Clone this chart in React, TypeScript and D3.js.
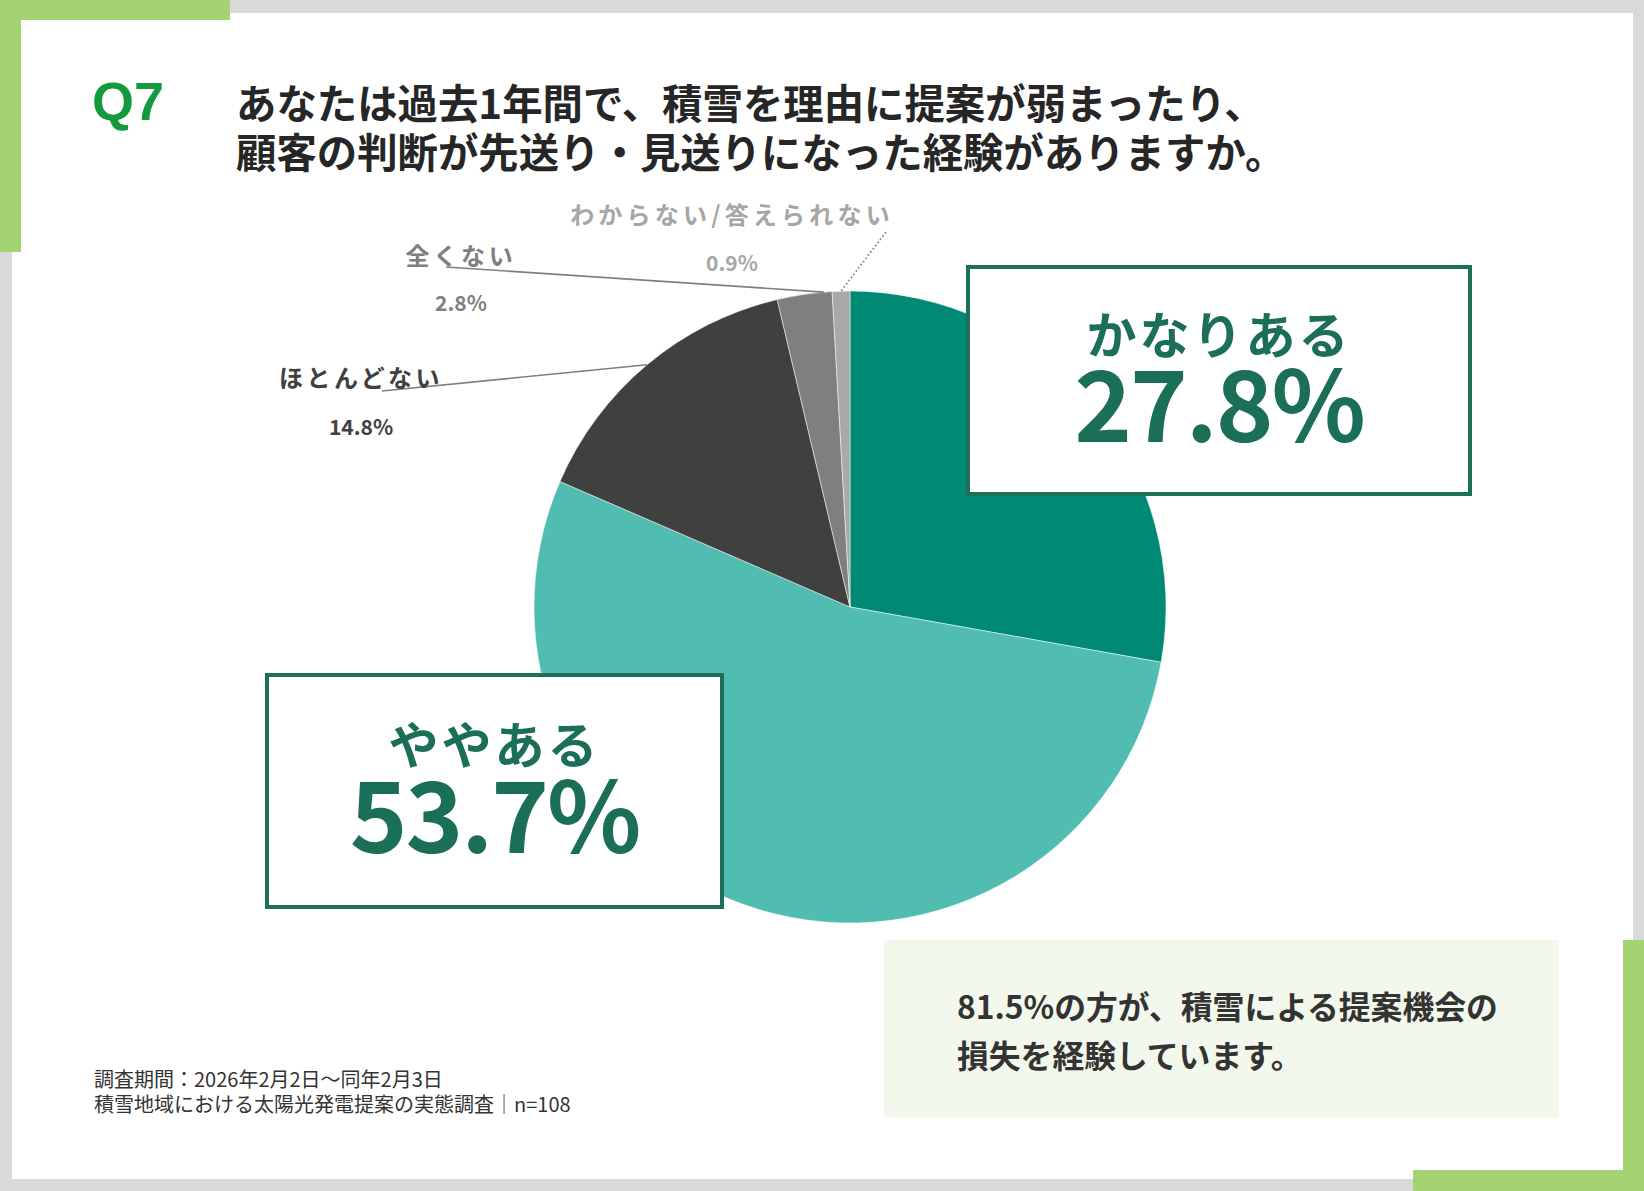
import React from 'react';
import * as d3 from 'd3';

// survey answers, clockwise from 12 o'clock
const categories = ['かなりある', 'ややある', 'ほとんどない', '全くない', 'わからない/答えられない'];
const shares = [27.8, 53.7, 14.8, 2.8, 0.9];
const sliceColors = ['#008a74', '#50bdb0', '#404040', '#7f7f7f', '#a9a9a9'];
const labelColors = ['#1b6e57', '#1b6e57', '#404040', '#7f7f7f', '#a6a6a6'];

const titleLines = [
  'あなたは過去1年間で、積雪を理由に提案が弱まったり、',
  '顧客の判断が先送り・見送りになった経験がありますか。',
];
const summaryLines = ['81.5%の方が、積雪による提案機会の', '損失を経験しています。'];
const noteLines = ['調査期間：2026年2月2日～同年2月3日', '積雪地域における太陽光発電提案の実態調査│n=108'];

const W = 1644;
const H = 1191;
const FONT = "'Noto Sans CJK JP', 'Noto Sans', sans-serif";

// pie geometry
const cx = 850;
const cy = 607;
const radius = 316;

// boxed callouts for the two big slices
const boxes = [
  { idx: 0, x: 968, y: 267, w: 502, h: 227, labelY: 354, valueY: 442 },
  { idx: 1, x: 267, y: 675, w: 455, h: 232, labelY: 764, valueY: 853 },
];

// leader-line labels for the small slices (t = where on the slice the line meets the rim)
const leaders = [
  { idx: 2, tx: 361, ty: 387, vy: 435, lx: 382, ly: 391, t: 0.5, dash: '', ls: 3.5 },
  { idx: 3, tx: 461, ty: 265, vy: 311, lx: 446, ly: 267, t: 0.85, dash: '', ls: 3.8 },
  { idx: 4, tx: 732, ty: 224, vy: 271, lx: 886, ly: 232, t: 0.5, dash: '2,2', ls: 4.2 },
];

const App: React.FC = () => {
  const pie = d3.pie<number>().sort(null).value(d => d);
  const arcs = pie(shares);
  const arc = d3.arc<d3.PieArcDatum<number>>().innerRadius(0).outerRadius(radius);

  const rimPoint = (a: d3.PieArcDatum<number>, t: number) => {
    const ang = a.startAngle + (a.endAngle - a.startAngle) * t;
    return [cx + radius * Math.sin(ang), cy - radius * Math.cos(ang)];
  };

  return (
    <svg
      width={W}
      height={H}
      style={{ position: 'absolute', left: 0, top: 0, fontFamily: FONT }}
    >
      {/* frame */}
      <rect x={0} y={0} width={W} height={H} fill="#d9d9d9" />
      <rect x={12} y={13} width={1621} height={1166} fill="#ffffff" />
      <rect x={0} y={0} width={230} height={20} fill="#a5d373" />
      <rect x={0} y={0} width={21} height={252} fill="#a5d373" />
      <rect x={1623} y={940} width={21} height={251} fill="#a5d373" />
      <rect x={1413} y={1170} width={231} height={21} fill="#a5d373" />

      {/* title */}
      <text x={92} y={120} fill="#129a3d" fontSize={54} fontWeight={700} fontFamily="'Liberation Sans', Arial, sans-serif">
        Q7
      </text>
      {titleLines.map((l, i) => (
        <text key={i} x={236} y={119 + i * 49} fill="#262626" fontSize={40.4} fontWeight={700}>
          {l}
        </text>
      ))}

      {/* pie */}
      <g transform={`translate(${cx},${cy})`}>
        {arcs.map((a, i) => (
          <path key={categories[i]} d={arc(a) || ''} fill={sliceColors[i]} stroke="#ffffff" strokeWidth={0.5} />
        ))}
      </g>

      {/* leader labels */}
      {leaders.map(ld => {
        const a = arcs[ld.idx];
        const [ex, ey] = rimPoint(a, ld.t);
        return (
          <g key={ld.idx}>
            <line
              x1={ld.lx}
              y1={ld.ly}
              x2={ex}
              y2={ey}
              stroke={ld.dash ? '#8c8c8c' : '#7f7f7f'}
              strokeWidth={1.6}
              strokeDasharray={ld.dash || undefined}
            />
            <text
              x={ld.tx}
              y={ld.ty}
              textAnchor="middle"
              fill={labelColors[ld.idx]}
              fontSize={24}
              fontWeight={700}
              letterSpacing={ld.ls}
            >
              {categories[ld.idx]}
            </text>
            <text x={ld.tx} y={ld.vy} textAnchor="middle" fill={labelColors[ld.idx]} fontSize={21} fontWeight={700}>
              {d3.format('.1f')(shares[ld.idx])}%
            </text>
          </g>
        );
      })}

      {/* boxed callouts */}
      {boxes.map(b => {
        const mid = b.x + b.w / 2;
        return (
          <g key={b.idx}>
            <rect x={b.x} y={b.y} width={b.w} height={b.h} fill="#ffffff" stroke="#1d6f58" strokeWidth={4} />
            <text x={mid} y={b.labelY} textAnchor="middle" fill={labelColors[b.idx]} fontSize={50} fontWeight={700} letterSpacing={3}>
              {categories[b.idx]}
            </text>
            <text x={mid} y={b.valueY} textAnchor="middle" fill={labelColors[b.idx]} fontSize={98} fontWeight={700} letterSpacing={-2}>
              {d3.format('.1f')(shares[b.idx])}%
            </text>
          </g>
        );
      })}

      {/* summary */}
      <rect x={884} y={940} width={675} height={177} fill="#f3f8ec" />
      {summaryLines.map((l, i) => (
        <text key={i} x={957} y={1019 + i * 49} fill="#333333" fontSize={31.8} fontWeight={700}>
          {l}
        </text>
      ))}

      {/* notes */}
      {noteLines.map((l, i) => (
        <text key={i} x={94} y={1087 + i * 25} fill="#333333" fontSize={20}>
          {l}
        </text>
      ))}
    </svg>
  );
};

export default App;
